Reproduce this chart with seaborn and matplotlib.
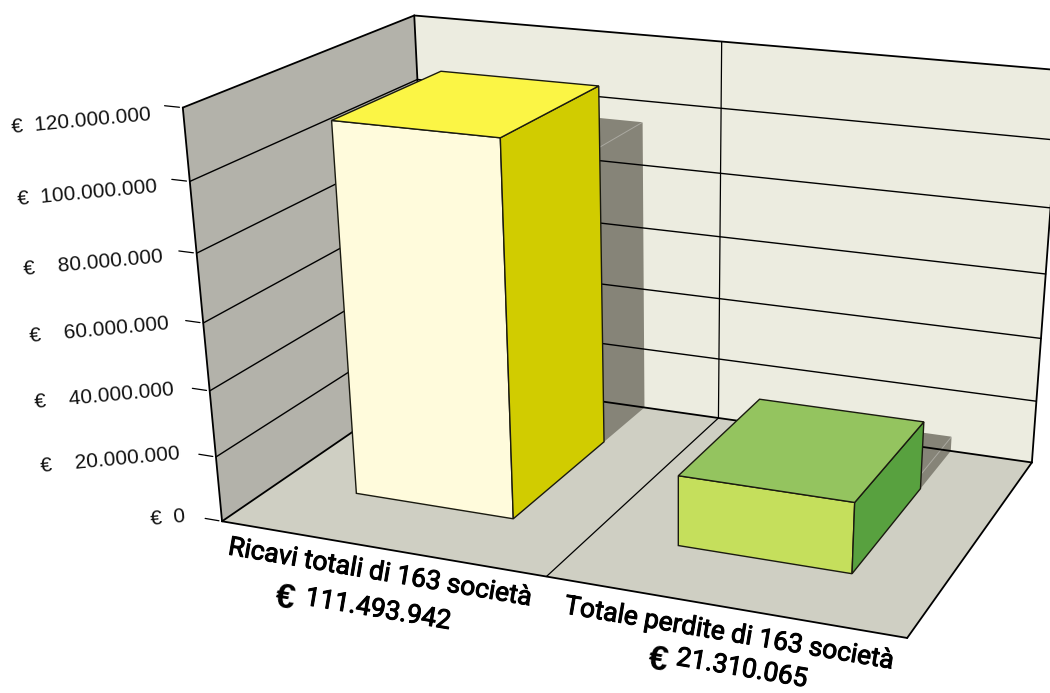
import numpy as np
import pandas as pd
import matplotlib
matplotlib.use("Agg")
import matplotlib.pyplot as plt
import matplotlib.patheffects as pe
import seaborn as sns

# ---- data -------------------------------------------------------------
categories = ["Ricavi totali di 163 società", "Totale perdite di 163 società"]
values = [111493942, 21310065]
value_labels = ["111.493.942", "21.310.065"]
axis_ticks = [0, 20000000, 40000000, 60000000, 80000000, 100000000, 120000000]
tick_labels = ["€  0", "€    20.000.000", "€    40.000.000", "€    60.000.000",
               "€    80.000.000", "€  100.000.000", "€  120.000.000"]

front_colors = ["#FFFBDC", "#C5DF5C"]
top_colors = ["#FBF545", "#94C45F"]
side_colors = ["#D1CC00", "#58A13F"]

sns.set_theme(style="white")
plt.rcParams["font.family"] = ["Liberation Sans", "DejaVu Sans"]

df = pd.DataFrame({"category": categories, "value": values})

# ---- perspective of the 3-D frame (x: category slots, y: euros, z: depth) --
PROJ = np.array([
    [296.7979658846631, -0.4482898329829976 / 1e6, 280.7196167332382, 222.04683832146296],
    [26.15963765684379, -3.5187194387383576 / 1e6, -82.25651421774073, 521.2903773116782],
    [-0.05044527509665177, -0.0006627723637750993 / 1e6, 0.16336500749067534, 1.0],
])


def pr(x, y, z):
    q = PROJ @ np.array([x, y, z, 1.0])
    return q[:2] / q[2]


fig = plt.figure(figsize=(10.5, 6.93), dpi=100, facecolor="white")
ax = fig.add_axes([0, 0, 1, 1])
ax.set_xlim(0, 1050)
ax.set_ylim(693, 0)
ax.axis("off")

ymax = axis_ticks[-1]
BLACK = "#000000"


def face(pts, color, z, lw=0.0, ec="none", alpha=None):
    xy = np.array([pr(*p) for p in pts])
    ax.fill(xy[:, 0], xy[:, 1], facecolor=color, edgecolor=ec, linewidth=lw,
            zorder=z, alpha=alpha, joinstyle="miter")


def seg(a, b, lw, z, color=BLACK, alpha=None):
    xy = np.array([pr(*a), pr(*b)])
    ax.plot(xy[:, 0], xy[:, 1], color=color, lw=lw, zorder=z, alpha=alpha,
            solid_capstyle="round")


# walls and floor
face([(0, 0, 0), (0, ymax, 0), (0, ymax, 1), (0, 0, 1)], "#B3B2AA", 1)
face([(0, 0, 1), (0, ymax, 1), (2, ymax, 1), (2, 0, 1)], "#ECECE0", 1)
face([(0, 0, 0), (2, 0, 0), (2, 0, 1), (0, 0, 1)], "#CFCFC3", 1)

# shadows of the bars on the back wall and floor
for i, row in df.iterrows():
    x0, x1 = i + 0.25, i + 0.75
    h = row["value"] * 0.983 - 16.2e6
    face([(x0, 0, 1), (x0, h, 1), (x1, h, 1), (x1, 0, 1)], "#868478", 2)
    face([(x0, 0, 0.75), (x1, 0, 0.75), (x1, 0, 1), (x0, 0, 1)], "#868478", 2)
    seg((x1, h, 1), (x1, h, 0.75), 0.7, 2.5, color="#FFFFFF", alpha=0.3)

# grid lines
for t in axis_ticks[1:-1]:
    seg((0, t, 0), (0, t, 1), 1.0, 3)
    seg((0, t, 1), (2, t, 1), 1.0, 3)
seg((1, 0, 1), (1, ymax, 1), 0.9, 3)
seg((1, 0, 0), (1, 0, 1), 0.9, 3)

# frame
for a, b in [((0, 0, 0), (2, 0, 0)), ((2, 0, 0), (2, 0, 1)), ((0, 0, 0), (0, 0, 1)),
             ((0, 0, 1), (2, 0, 1)), ((0, 0, 0), (0, ymax, 0)), ((0, ymax, 0), (0, ymax, 1)),
             ((0, ymax, 1), (0, 0, 1)), ((0, ymax, 1), (2, ymax, 1)), ((2, ymax, 1), (2, 0, 1))]:
    seg(a, b, 1.3, 3.2)

# bars
for i, row in df.iterrows():
    x0, x1, z0, z1 = i + 0.25, i + 0.75, 0.25, 0.75
    v = row["value"]
    ec = "#1A1A10"
    face([(x0, 0, z0), (x1, 0, z0), (x1, v, z0), (x0, v, z0)], front_colors[i], 4 + i, 1.0, ec)
    face([(x1, 0, z0), (x1, 0, z1), (x1, v, z1), (x1, v, z0)], side_colors[i], 4 + i, 1.0, ec)
    face([(x0, v, z0), (x1, v, z0), (x1, v, z1), (x0, v, z1)], top_colors[i], 4 + i, 1.0, ec)

# value axis ticks and labels
for t, lab in zip(axis_ticks, tick_labels):
    seg((-0.055, t, 0), (-0.01, t, 0), 0.9, 3)
    tx, ty = pr(-0.055, t, 0)
    f = t / ymax
    ax.text(tx - (20 - 6 * f), ty + (-2 + 11 * f), lab, fontsize=15, color="#111111",
            rotation=5.3, rotation_mode="anchor", ha="right", va="center", zorder=6)

# category labels
cat_xy = [(380, 573), (729, 634)]
val_xy = [(378, 610), (742, 669)]
euro_xy = [(285, 598), (658, 660)]
thick = [pe.withStroke(linewidth=0.7, foreground="#000000")]
for i in range(len(categories)):
    ax.text(*cat_xy[i], categories[i], family="Roboto", fontsize=19, color="#000000",
            rotation=-9.6, rotation_mode="anchor", ha="center", va="center", zorder=6,
            path_effects=thick)
    ax.text(*val_xy[i], value_labels[i], family="Roboto", fontsize=19, color="#000000",
            rotation=-9.6, rotation_mode="anchor", ha="center", va="center", zorder=6,
            path_effects=thick)
    ax.text(*euro_xy[i], "€", family=["Liberation Sans", "DejaVu Sans"], fontsize=25,
            weight="bold", color="#000000", rotation=-9.6, rotation_mode="anchor",
            ha="center", va="center", zorder=6)

sns.despine(ax=ax, left=True, bottom=True)
fig.savefig("out.png", dpi=100, facecolor="white")
